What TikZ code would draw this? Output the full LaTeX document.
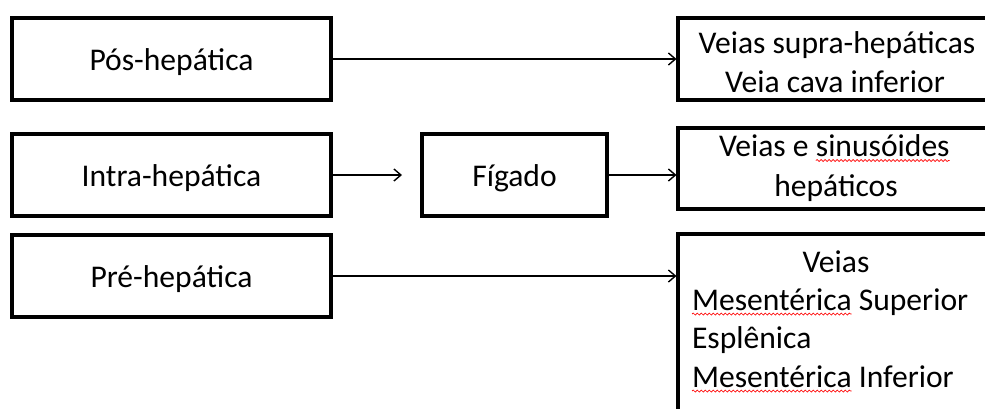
\documentclass[tikz,border=0pt]{standalone}
\usepackage{fontspec}
\setmainfont{Carlito}
\usetikzlibrary{arrows.meta,decorations.pathmorphing}
\tikzset{
  box/.style={draw=black, line width=3.5pt, inner sep=0pt, outer sep=0pt,
    minimum height=82pt, text height=22pt, text depth=0pt,
    font=\fontsize{31.6}{38}\selectfont},
  lbox/.style={box, minimum width=319pt},
  rbox/.style={draw=black, line width=3.5pt, inner sep=0pt, outer sep=0pt,
    minimum width=318pt},
  txt/.style={inner sep=0pt, outer sep=0pt, anchor=base,
    font=\fontsize{31.6}{38}\selectfont},
  ltxt/.style={txt, anchor=base west},
  arr/.style={draw=black, line width=1.4pt, shorten >=1.5pt,
    -{Straight Barb[length=7pt,width=12pt]}},
  spell/.style={draw=red, line width=0.7pt,
    decorate, decoration={snake, amplitude=1pt, segment length=4pt}},
}
\begin{document}
\begin{tikzpicture}[x=1pt,y=-1pt]
\useasboundingbox (0,0) rectangle (985,408);
\clip (0,0) rectangle (985,408);
% left column
\node[lbox] (pos) at (171.5,59) {Pós-hepática};
\node[lbox] (intra) at (171.5,175) {Intra-hepática};
\node[lbox] (pre) at (171.5,276) {Pré-hepática};
% middle
\node[box, minimum width=185pt] (fig) at (514.5,175) {Fígado};
% right column (cut by the picture's edge)
\node[rbox, minimum height=82pt] (r1) at (837,59) {};
\node[rbox, minimum height=81pt] (r2) at (837,168.5) {};
\node[rbox, minimum height=210pt] (r3) at (837,339) {};
% right texts
\node[txt] (r1a) at (837,53.5) {Veias supra-hepáticas};
\node[txt] (r1b) at (835,92) {Veia cava inferior};
\node[ltxt] (r2a) at (719,156.5) {Veias e};
\node[ltxt] (r2w) at ([xshift=7.2pt]r2a.base east) {sinusóides};
\node[txt] (r2b) at (836,196) {hepáticos};
\node[txt] (r3a) at (836,272) {Veias};
\node[ltxt] (r3m1) at (692,310) {Mesentérica};
\node[ltxt] (r3s) at ([xshift=7.2pt]r3m1.base east) {Superior};
\node[ltxt] (r3c) at (692,348) {Esplênica};
\node[ltxt] (r3m2) at (692,387) {Mesentérica};
\node[ltxt] (r3i) at ([xshift=7.2pt]r3m2.base east) {Inferior};
% spelling marks
\draw[spell] ([yshift=-4pt]r2w.base west) -- ([yshift=-4pt]r2w.base east);
\draw[spell] ([yshift=-4pt]r3m1.base west) -- ([yshift=-4pt]r3m1.base east);
\draw[spell] ([yshift=-4pt]r3m2.base west) -- ([yshift=-4pt]r3m2.base east);
% connectors
\draw[arr] (pos.east) -- (r1.west);
\draw[arr, shorten >=20pt] (intra.east) -- (fig.west);
\draw[arr] (fig.east) -- (fig.east -| r2.west);
\draw[arr] (pre.east) -- (pre.east -| r3.west);
\end{tikzpicture}
\end{document}
